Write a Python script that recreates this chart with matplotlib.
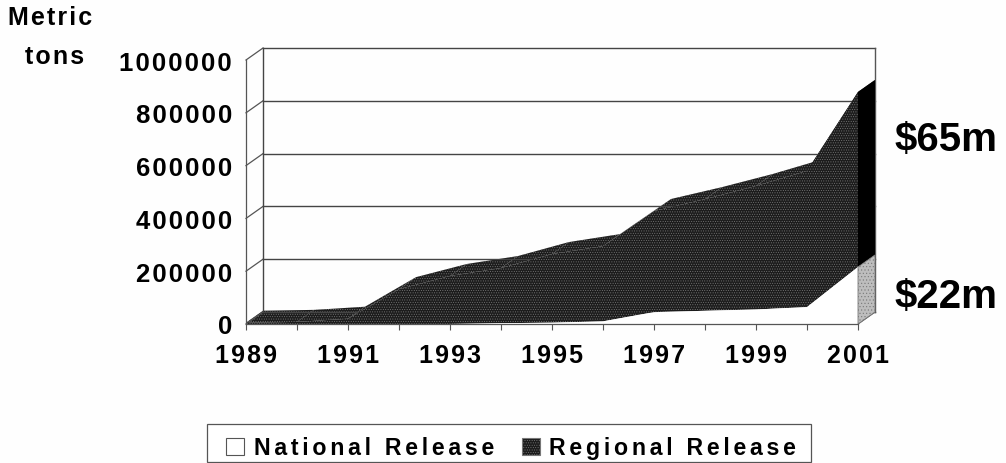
import matplotlib
matplotlib.use("Agg")
from matplotlib import pyplot as plt
from matplotlib.patches import Patch, Rectangle

years = [1989, 1990, 1991, 1992, 1993, 1994, 1995, 1996, 1997, 1998, 1999, 2000, 2001]
national = [0, 0, 0, 0, 0, 3000, 5000, 10000, 45000, 50000, 55000, 64000, 216000]
regional = [5000, 8000, 20000, 132000, 182000, 209000, 260000, 285000, 383000, 423000, 468000, 516000, 663000]
y_ticks = [0, 200000, 400000, 600000, 800000, 1000000]
x_labelled = [1989, 1991, 1993, 1995, 1997, 1999, 2001]

W, H = 1006, 464
FONT = ['Liberation Sans', 'DejaVu Sans']
LINE = '#555555'
DARK = '#1c1c1c'
SPECK = '#777777'


def wide(s, n=1):
    # the scan has loose letter spacing, hair spaces get close
    return ('\u200a' * n).join(s)


plt.rcParams['font.family'] = FONT
plt.rcParams['font.weight'] = 'bold'
plt.rcParams['hatch.linewidth'] = 0.4

fig = plt.figure(figsize=(W / 100, H / 100), dpi=100, facecolor='#fefefe')
# axes = front plane of the fake 3d box
ax = fig.add_axes([246 / W, 1 - 325 / H, (858 - 246) / W, (325 - 61) / H])
ax.set_xlim(1989, 2001)
ax.set_ylim(0, 1000000)
ax.patch.set_alpha(0)

# depth of the box in data units
dx = 17 / 51
dy = 12 / 264 * 1000000

total = [n + r for n, r in zip(national, regional)]

# walls
for v in y_ticks:
    ax.plot([1989, 1989 + dx], [v, v + dy], color=LINE, lw=0.9, clip_on=False)
    ax.plot([1989 + dx, 2001 + dx], [v + dy, v + dy], color='#444444', lw=1.0, clip_on=False)
ax.plot([1989 + dx, 1989 + dx], [dy, 1000000 + dy], color='#444444', lw=1.0, clip_on=False)
ax.plot([2001 + dx, 2001 + dx], [dy, 1000000 + dy], color=LINE, lw=1.0, clip_on=False)
ax.plot([2001, 2001 + dx], [0, dy], color=LINE, lw=0.9, clip_on=False)

# top face of the regional area
for i in range(len(years) - 1):
    ax.fill([years[i], years[i + 1], years[i + 1] + dx, years[i] + dx],
            [total[i], total[i + 1], total[i + 1] + dy, total[i] + dy],
            facecolor=DARK, edgecolor=SPECK, hatch='.......', lw=0, clip_on=False)

# front faces
ax.fill_between(years, national, total, facecolor=DARK, edgecolor=SPECK,
                hatch='.......', lw=0, clip_on=False, zorder=3)
ax.fill_between(years, 0, national, facecolor='white', lw=0, clip_on=False, zorder=3)

# side faces at 2001
ax.fill([2001, 2001 + dx, 2001 + dx, 2001],
        [national[-1], national[-1] + dy, total[-1] + dy, total[-1]],
        color='black', lw=0, clip_on=False, zorder=3)
ax.fill([2001, 2001 + dx, 2001 + dx, 2001],
        [0, dy, national[-1] + dy, national[-1]],
        facecolor='#bdbdbd', edgecolor=SPECK, hatch='.....', lw=0.6, clip_on=False, zorder=3)

# axes
for s in ['top', 'right']:
    ax.spines[s].set_visible(False)
for s in ['left', 'bottom']:
    ax.spines[s].set_color(LINE)
    ax.spines[s].set_linewidth(0.9)
    ax.spines[s].set_zorder(4)
ax.set_xticks(years)
ax.set_xticklabels([wide(str(y)) if y in x_labelled else '' for y in years], fontsize=18, fontweight='bold')
ax.set_yticks(y_ticks)
ax.set_yticklabels([wide(str(v)) for v in y_ticks], fontsize=18.5, fontweight='bold')
ax.tick_params(axis='x', length=4, width=0.8, color=LINE, pad=10)
ax.tick_params(axis='y', length=0, pad=10)

# text around the chart
fig.text(50 / W, 1 - 18 / H, wide('Metric'), fontsize=18, ha='center', va='center')
fig.text(55 / W, 1 - 57 / H, wide('tons'), fontsize=18, ha='center', va='center')
fig.text(998 / W, 1 - 140 / H, '$65m', fontsize=29, ha='right', va='center')
fig.text(998 / W, 1 - 297 / H, '$22m', fontsize=29, ha='right', va='center')

# legend frame is wider than the legend's own padding allows, so draw it apart
fig.add_artist(Rectangle((207 / W, 1 - 463 / H), 604 / W, 38 / H, transform=fig.transFigure,
                         facecolor='white', edgecolor=LINE, lw=0.9))
handles = [Patch(facecolor='white', edgecolor=LINE, lw=0.8),
           Patch(facecolor=DARK, edgecolor=SPECK, hatch='.......', lw=0.8)]
leg = fig.legend(handles, [wide('National Release', 2), wide('Regional Release', 2)], ncol=2,
                 loc='center', bbox_to_anchor=(511 / W, 1 - 449 / H), fontsize=16.7,
                 frameon=False, handlelength=0.78, handleheight=0.78,
                 handletextpad=0.42, columnspacing=1.2, borderpad=0, borderaxespad=0)

fig.savefig('out.png', dpi=100, facecolor=fig.get_facecolor())
